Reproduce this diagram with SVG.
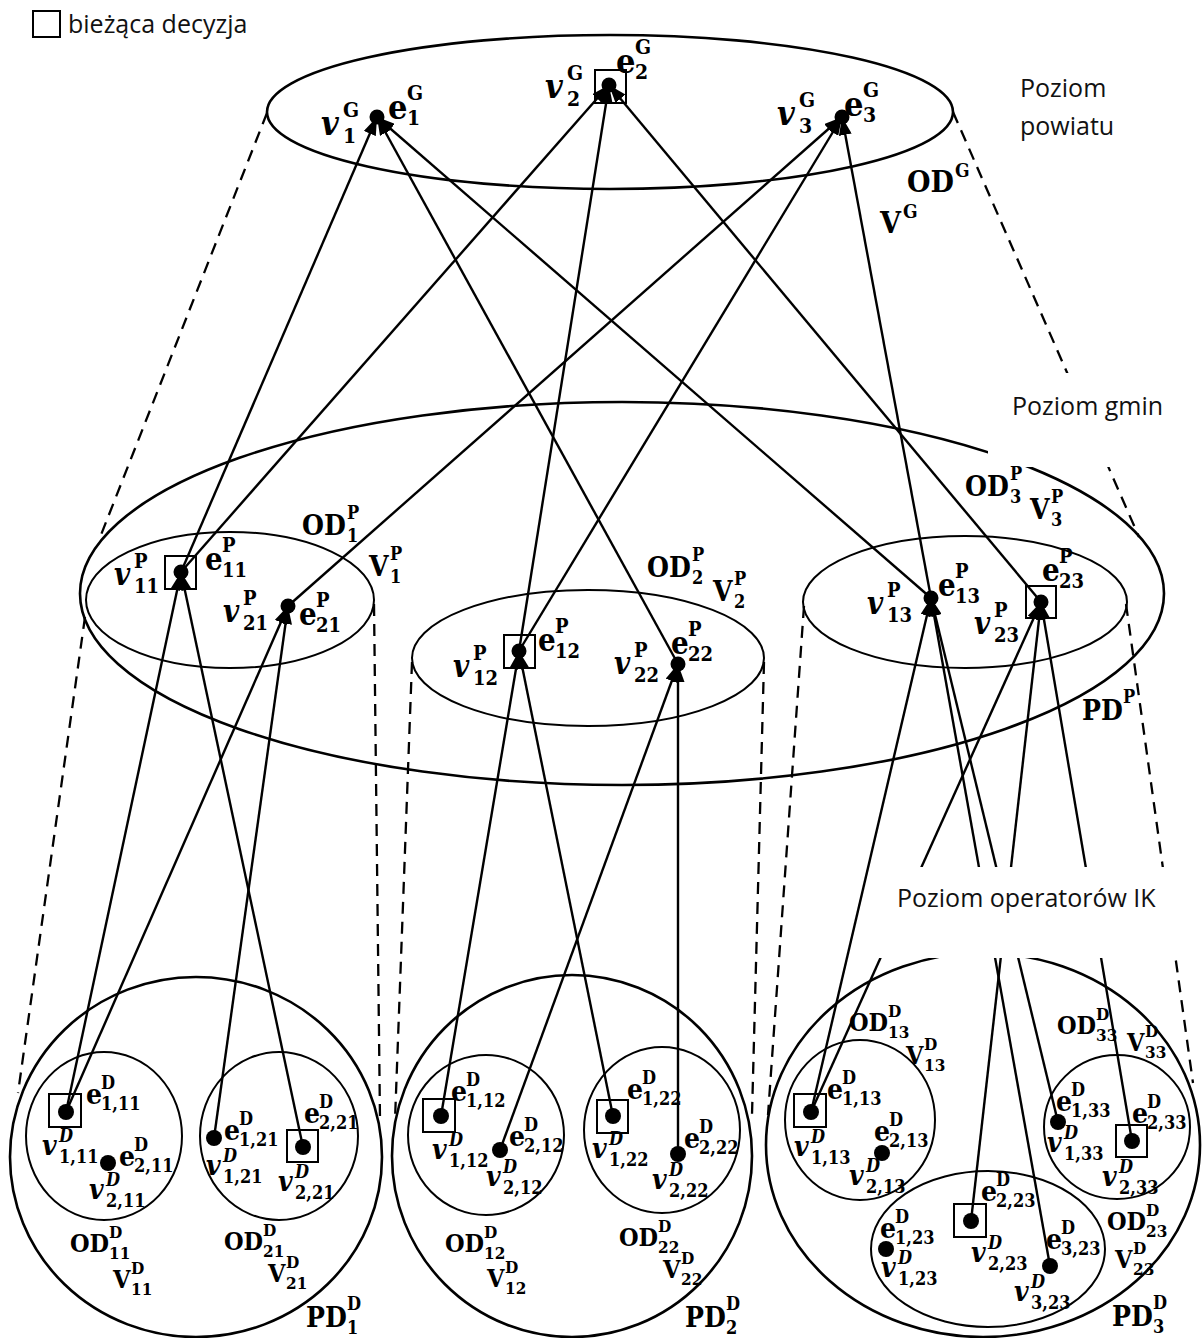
<svg xmlns="http://www.w3.org/2000/svg" width="1202" height="1338" viewBox="0 0 1202 1338">
<style>
.el{fill:none;stroke:#000;stroke-width:2.6}
.el2{fill:none;stroke:#000;stroke-width:2}
.dash{fill:none;stroke:#000;stroke-width:2.3;stroke-dasharray:12 8}
.c{stroke:#000;stroke-width:2.4;fill:none}
.dot{fill:#000}
.box{fill:none;stroke:#000;stroke-width:2}
.lv{font-family:"Open Sans",sans-serif;font-size:25px;fill:#111}
.m{font-family:"DejaVu Serif Condensed","DejaVu Serif",serif;font-weight:bold;fill:#000}
.g{font-size:34px}.gs{font-size:21px}
.go{font-size:30px}.gos{font-size:19px}
.p{font-size:31px}.ps{font-size:20px}
.po{font-size:28px}.pos{font-size:18px}
.d{font-size:28px}.ds{font-size:18px}
.do{font-size:25px}.dos{font-size:17px}
.i{font-style:italic}
.n{font-style:normal}
</style>
<defs>
<marker id="ah" viewBox="0 0 18 13" refX="18" refY="6.5" markerWidth="18" markerHeight="13" markerUnits="userSpaceOnUse" orient="auto"><path d="M0,0L18,6.5L0,13z" fill="#000"/></marker>
<mask id="mk" maskUnits="userSpaceOnUse" x="0" y="0" width="1202" height="1338"><rect width="1202" height="1338" fill="#fff"/><rect x="988" y="373" width="214" height="94" fill="#000"/><rect x="874" y="867" width="328" height="91" fill="#000"/></mask>
</defs>
<rect width="1202" height="1338" fill="#fff"/>

<g id="legend">
<rect class="box" x="33" y="11" width="27" height="26"/>
<text class="lv" x="68" y="33">bieżąca decyzja</text>
</g>

<g id="levels" mask="url(#mk)">
<ellipse id="ODG" class="el" cx="610" cy="112" rx="343" ry="77"/>
<ellipse id="PDP" class="el" cx="622" cy="593.5" rx="542" ry="191.5"/>
<ellipse id="OD1P" class="el2" cx="230" cy="600" rx="144" ry="68"/>
<ellipse id="OD2P" class="el2" cx="588" cy="658" rx="176" ry="68"/>
<ellipse id="OD3P" class="el2" cx="965" cy="602" rx="162" ry="66"/>
<ellipse id="PD1D" class="el" cx="196" cy="1157" rx="186" ry="180"/>
<ellipse id="PD2D" class="el" cx="572" cy="1156" rx="180" ry="181"/>
<ellipse id="PD3D" class="el" cx="983" cy="1145" rx="217" ry="192"/>
<ellipse id="OD11D" class="el2" cx="104" cy="1136" rx="78" ry="84"/>
<ellipse id="OD21D" class="el2" cx="279" cy="1136" rx="79" ry="84"/>
<ellipse id="OD12D" class="el2" cx="486" cy="1135" rx="78" ry="80"/>
<ellipse id="OD22D" class="el2" cx="662" cy="1130" rx="78" ry="83"/>
<ellipse id="OD13D" class="el2" cx="860" cy="1120" rx="75" ry="80"/>
<ellipse id="OD33D" class="el2" cx="1117" cy="1127" rx="73" ry="72"/>
<ellipse id="OD23D" class="el2" cx="988" cy="1249" rx="117" ry="78"/>
</g>

<g id="projections" mask="url(#mk)">
<line class="dash" x1="267" y1="113" x2="99" y2="540"/>
<line class="dash" x1="953" y1="112" x2="1139" y2="537"/>
<line class="dash" x1="85" y1="617" x2="18" y2="1093"/>
<line class="dash" x1="374" y1="604" x2="380" y2="1120"/>
<line class="dash" x1="412" y1="662" x2="395" y2="1120"/>
<line class="dash" x1="764" y1="662" x2="752" y2="1115"/>
<line class="dash" x1="804" y1="606" x2="768" y2="1115"/>
<line class="dash" x1="1126" y1="604" x2="1193" y2="1083"/>
</g>

<g id="connectors" mask="url(#mk)">
<line class="c" x1="181" y1="572" x2="377" y2="117" marker-end="url(#ah)"/>
<line class="c" x1="678" y1="664" x2="377" y2="117" marker-end="url(#ah)"/>
<line class="c" x1="931" y1="598" x2="377" y2="117" marker-end="url(#ah)"/>
<line class="c" x1="181" y1="572" x2="609" y2="85" marker-end="url(#ah)"/>
<line class="c" x1="519" y1="651" x2="609" y2="85" marker-end="url(#ah)"/>
<line class="c" x1="1041" y1="602" x2="609" y2="85" marker-end="url(#ah)"/>
<line class="c" x1="288" y1="606" x2="842" y2="117" marker-end="url(#ah)"/>
<line class="c" x1="519" y1="651" x2="842" y2="117" marker-end="url(#ah)"/>
<line class="c" x1="931" y1="598" x2="842" y2="117" marker-end="url(#ah)"/>
<line class="c" x1="66" y1="1112" x2="181" y2="572" marker-end="url(#ah)"/>
<line class="c" x1="303" y1="1147" x2="181" y2="572" marker-end="url(#ah)"/>
<line class="c" x1="66" y1="1112" x2="288" y2="606" marker-end="url(#ah)"/>
<line class="c" x1="214" y1="1138" x2="288" y2="606" marker-end="url(#ah)"/>
<line class="c" x1="441" y1="1116" x2="519" y2="651" marker-end="url(#ah)"/>
<line class="c" x1="613" y1="1116" x2="519" y2="651" marker-end="url(#ah)"/>
<line class="c" x1="500" y1="1150" x2="678" y2="664" marker-end="url(#ah)"/>
<line class="c" x1="678" y1="1154" x2="678" y2="664" marker-end="url(#ah)"/>
<line class="c" x1="811" y1="1112" x2="931" y2="598" marker-end="url(#ah)"/>
<line class="c" x1="1050" y1="1266" x2="931" y2="598" marker-end="url(#ah)"/>
<line class="c" x1="1058" y1="1122" x2="931" y2="598" marker-end="url(#ah)"/>
<line class="c" x1="811" y1="1112" x2="1041" y2="602" marker-end="url(#ah)"/>
<line class="c" x1="971" y1="1221" x2="1041" y2="602" marker-end="url(#ah)"/>
<line class="c" x1="1132" y1="1141" x2="1041" y2="602" marker-end="url(#ah)"/>
</g>

<g id="boxes">
<rect class="box" x="595" y="70" width="31" height="33"/>
<rect class="box" x="165" y="556" width="31" height="33"/>
<rect class="box" x="504" y="635" width="31" height="33"/>
<rect class="box" x="1026" y="586" width="30" height="32"/>
<rect class="box" x="49" y="1094" width="32" height="33"/>
<rect class="box" x="287" y="1130" width="31" height="32"/>
<rect class="box" x="423" y="1099" width="32" height="33"/>
<rect class="box" x="597" y="1100" width="31" height="33"/>
<rect class="box" x="794" y="1094" width="32" height="33"/>
<rect class="box" x="954" y="1204" width="32" height="33"/>
<rect class="box" x="1116" y="1125" width="31" height="32"/>
</g>

<g id="nodes">
<g id="n-e1G"><circle class="dot" cx="377" cy="117" r="7.5"/>
<text class="m g i" x="321" y="135">v<tspan class="gs n" x="343" y="117">G</tspan><tspan class="gs n" x="343" y="143">1</tspan></text>
<text class="m g" x="388" y="119">e<tspan class="gs" x="407" y="100">G</tspan><tspan class="gs" x="407" y="125">1</tspan></text></g>
<g id="n-e2G"><circle class="dot" cx="609" cy="85" r="7.5"/>
<text class="m g i" x="545" y="98">v<tspan class="gs n" x="567" y="80">G</tspan><tspan class="gs n" x="567" y="106">2</tspan></text>
<text class="m g" x="616" y="73">e<tspan class="gs" x="635" y="54">G</tspan><tspan class="gs" x="635" y="79">2</tspan></text></g>
<g id="n-e3G"><circle class="dot" cx="842" cy="117" r="7.5"/>
<text class="m g i" x="777" y="125">v<tspan class="gs n" x="799" y="107">G</tspan><tspan class="gs n" x="799" y="133">3</tspan></text>
<text class="m g" x="844" y="116">e<tspan class="gs" x="863" y="97">G</tspan><tspan class="gs" x="863" y="122">3</tspan></text></g>

<g id="n-e11P"><circle class="dot" cx="181" cy="572" r="7.5"/>
<text class="m p i" x="114" y="585">v<tspan class="ps n" x="134" y="568">P</tspan><tspan class="ps n" x="134" y="593">11</tspan></text>
<text class="m p" x="205" y="570">e<tspan class="ps" x="222" y="552">P</tspan><tspan class="ps" x="222" y="577">11</tspan></text></g>
<g id="n-e21P"><circle class="dot" cx="288" cy="606" r="7.5"/>
<text class="m p i" x="223" y="622">v<tspan class="ps n" x="243" y="605">P</tspan><tspan class="ps n" x="243" y="630">21</tspan></text>
<text class="m p" x="299" y="625">e<tspan class="ps" x="316" y="607">P</tspan><tspan class="ps" x="316" y="632">21</tspan></text></g>
<g id="n-e12P"><circle class="dot" cx="519" cy="651" r="7.5"/>
<text class="m p i" x="453" y="677">v<tspan class="ps n" x="473" y="660">P</tspan><tspan class="ps n" x="473" y="685">12</tspan></text>
<text class="m p" x="538" y="651">e<tspan class="ps" x="555" y="633">P</tspan><tspan class="ps" x="555" y="658">12</tspan></text></g>
<g id="n-e22P"><circle class="dot" cx="678" cy="664" r="7.5"/>
<text class="m p i" x="614" y="674">v<tspan class="ps n" x="634" y="657">P</tspan><tspan class="ps n" x="634" y="682">22</tspan></text>
<text class="m p" x="671" y="654">e<tspan class="ps" x="688" y="636">P</tspan><tspan class="ps" x="688" y="661">22</tspan></text></g>
<g id="n-e13P"><circle class="dot" cx="931" cy="598" r="7.5"/>
<text class="m p i" x="867" y="614">v<tspan class="ps n" x="887" y="597">P</tspan><tspan class="ps n" x="887" y="622">13</tspan></text>
<text class="m p" x="938" y="596">e<tspan class="ps" x="955" y="578">P</tspan><tspan class="ps" x="955" y="603">13</tspan></text></g>
<g id="n-e23P"><circle class="dot" cx="1041" cy="602" r="7.5"/>
<text class="m p i" x="974" y="634">v<tspan class="ps n" x="994" y="617">P</tspan><tspan class="ps n" x="994" y="642">23</tspan></text>
<text class="m p" x="1042" y="581">e<tspan class="ps" x="1059" y="563">P</tspan><tspan class="ps" x="1059" y="588">23</tspan></text></g>

<g id="n-e111D"><circle class="dot" cx="66" cy="1112" r="8"/>
<text class="m d" x="86" y="1104">e<tspan class="ds" x="101" y="1089">D</tspan><tspan class="ds" x="101" y="1110">1,11</tspan></text>
<text class="m d i" x="42" y="1155">v<tspan class="ds" x="59" y="1142">D</tspan><tspan class="ds n" x="59" y="1163">1,11</tspan></text></g>
<g id="n-e211D"><circle class="dot" cx="108" cy="1163" r="8"/>
<text class="m d" x="119" y="1166">e<tspan class="ds" x="134" y="1151">D</tspan><tspan class="ds" x="134" y="1172">2,11</tspan></text>
<text class="m d i" x="89" y="1199">v<tspan class="ds" x="106" y="1186">D</tspan><tspan class="ds n" x="106" y="1207">2,11</tspan></text></g>
<g id="n-e121D"><circle class="dot" cx="214" cy="1138" r="8"/>
<text class="m d" x="224" y="1140">e<tspan class="ds" x="239" y="1125">D</tspan><tspan class="ds" x="239" y="1146">1,21</tspan></text>
<text class="m d i" x="206" y="1175">v<tspan class="ds" x="223" y="1162">D</tspan><tspan class="ds n" x="223" y="1183">1,21</tspan></text></g>
<g id="n-e221D"><circle class="dot" cx="303" cy="1147" r="8"/>
<text class="m d" x="304" y="1123">e<tspan class="ds" x="319" y="1108">D</tspan><tspan class="ds" x="319" y="1129">2,21</tspan></text>
<text class="m d i" x="278" y="1191">v<tspan class="ds" x="295" y="1178">D</tspan><tspan class="ds n" x="295" y="1199">2,21</tspan></text></g>
<g id="lab-PD1">
<text class="m do" x="70" y="1252">OD<tspan class="dos" x="109" y="1238">D</tspan><tspan class="dos" x="109" y="1259">11</tspan></text>
<text class="m do" x="113" y="1288">V<tspan class="dos" x="131" y="1274">D</tspan><tspan class="dos" x="131" y="1295">11</tspan></text>
<text class="m do" x="224" y="1250">OD<tspan class="dos" x="263" y="1236">D</tspan><tspan class="dos" x="263" y="1257">21</tspan></text>
<text class="m do" x="268" y="1282">V<tspan class="dos" x="286" y="1268">D</tspan><tspan class="dos" x="286" y="1289">21</tspan></text>
<text class="m po" x="306" y="1327">PD<tspan class="pos" x="347" y="1310">D</tspan><tspan class="pos" x="347" y="1334">1</tspan></text></g>

<g id="n-e112D"><circle class="dot" cx="441" cy="1116" r="8"/>
<text class="m d" x="451" y="1101">e<tspan class="ds" x="466" y="1086">D</tspan><tspan class="ds" x="466" y="1107">1,12</tspan></text>
<text class="m d i" x="432" y="1159">v<tspan class="ds" x="449" y="1146">D</tspan><tspan class="ds n" x="449" y="1167">1,12</tspan></text></g>
<g id="n-e212D"><circle class="dot" cx="500" cy="1150" r="8"/>
<text class="m d" x="509" y="1146">e<tspan class="ds" x="524" y="1131">D</tspan><tspan class="ds" x="524" y="1152">2,12</tspan></text>
<text class="m d i" x="486" y="1186">v<tspan class="ds" x="503" y="1173">D</tspan><tspan class="ds n" x="503" y="1194">2,12</tspan></text></g>
<g id="n-e122D"><circle class="dot" cx="613" cy="1116" r="8"/>
<text class="m d" x="627" y="1099">e<tspan class="ds" x="642" y="1084">D</tspan><tspan class="ds" x="642" y="1105">1,22</tspan></text>
<text class="m d i" x="592" y="1158">v<tspan class="ds" x="609" y="1145">D</tspan><tspan class="ds n" x="609" y="1166">1,22</tspan></text></g>
<g id="n-e222D"><circle class="dot" cx="678" cy="1154" r="8"/>
<text class="m d" x="684" y="1148">e<tspan class="ds" x="699" y="1133">D</tspan><tspan class="ds" x="699" y="1154">2,22</tspan></text>
<text class="m d i" x="652" y="1189">v<tspan class="ds" x="669" y="1176">D</tspan><tspan class="ds n" x="669" y="1197">2,22</tspan></text></g>
<g id="lab-PD2">
<text class="m do" x="445" y="1252">OD<tspan class="dos" x="484" y="1238">D</tspan><tspan class="dos" x="484" y="1259">12</tspan></text>
<text class="m do" x="487" y="1287">V<tspan class="dos" x="505" y="1273">D</tspan><tspan class="dos" x="505" y="1294">12</tspan></text>
<text class="m do" x="619" y="1246">OD<tspan class="dos" x="658" y="1232">D</tspan><tspan class="dos" x="658" y="1253">22</tspan></text>
<text class="m do" x="663" y="1278">V<tspan class="dos" x="681" y="1264">D</tspan><tspan class="dos" x="681" y="1285">22</tspan></text>
<text class="m po" x="685" y="1327">PD<tspan class="pos" x="726" y="1310">D</tspan><tspan class="pos" x="726" y="1334">2</tspan></text></g>

<g id="n-e113D"><circle class="dot" cx="811" cy="1112" r="8"/>
<text class="m d" x="827" y="1099">e<tspan class="ds" x="842" y="1084">D</tspan><tspan class="ds" x="842" y="1105">1,13</tspan></text>
<text class="m d i" x="794" y="1156">v<tspan class="ds" x="811" y="1143">D</tspan><tspan class="ds n" x="811" y="1164">1,13</tspan></text></g>
<g id="n-e213D"><circle class="dot" cx="882" cy="1153" r="8"/>
<text class="m d" x="874" y="1141">e<tspan class="ds" x="889" y="1126">D</tspan><tspan class="ds" x="889" y="1147">2,13</tspan></text>
<text class="m d i" x="849" y="1185">v<tspan class="ds" x="866" y="1172">D</tspan><tspan class="ds n" x="866" y="1193">2,13</tspan></text></g>
<g id="n-e133D"><circle class="dot" cx="1058" cy="1122" r="8"/>
<text class="m d" x="1056" y="1111">e<tspan class="ds" x="1071" y="1096">D</tspan><tspan class="ds" x="1071" y="1117">1,33</tspan></text>
<text class="m d i" x="1047" y="1152">v<tspan class="ds" x="1064" y="1139">D</tspan><tspan class="ds n" x="1064" y="1160">1,33</tspan></text></g>
<g id="n-e233D"><circle class="dot" cx="1132" cy="1141" r="8"/>
<text class="m d" x="1132" y="1123">e<tspan class="ds" x="1147" y="1108">D</tspan><tspan class="ds" x="1147" y="1129">2,33</tspan></text>
<text class="m d i" x="1102" y="1186">v<tspan class="ds" x="1119" y="1173">D</tspan><tspan class="ds n" x="1119" y="1194">2,33</tspan></text></g>
<g id="n-e123D"><circle class="dot" cx="886" cy="1249" r="8"/>
<text class="m d" x="880" y="1238">e<tspan class="ds" x="895" y="1223">D</tspan><tspan class="ds" x="895" y="1244">1,23</tspan></text>
<text class="m d i" x="881" y="1277">v<tspan class="ds" x="898" y="1264">D</tspan><tspan class="ds n" x="898" y="1285">1,23</tspan></text></g>
<g id="n-e223D"><circle class="dot" cx="971" cy="1221" r="8"/>
<text class="m d" x="981" y="1201">e<tspan class="ds" x="996" y="1186">D</tspan><tspan class="ds" x="996" y="1207">2,23</tspan></text>
<text class="m d i" x="971" y="1262">v<tspan class="ds" x="988" y="1249">D</tspan><tspan class="ds n" x="988" y="1270">2,23</tspan></text></g>
<g id="n-e323D"><circle class="dot" cx="1050" cy="1266" r="8"/>
<text class="m d" x="1046" y="1249">e<tspan class="ds" x="1061" y="1234">D</tspan><tspan class="ds" x="1061" y="1255">3,23</tspan></text>
<text class="m d i" x="1014" y="1301">v<tspan class="ds" x="1031" y="1288">D</tspan><tspan class="ds n" x="1031" y="1309">3,23</tspan></text></g>
<g id="lab-PD3">
<text class="m do" x="849" y="1031">OD<tspan class="dos" x="888" y="1017">D</tspan><tspan class="dos" x="888" y="1038">13</tspan></text>
<text class="m do" x="906" y="1064">V<tspan class="dos" x="924" y="1050">D</tspan><tspan class="dos" x="924" y="1071">13</tspan></text>
<text class="m do" x="1057" y="1034">OD<tspan class="dos" x="1096" y="1020">D</tspan><tspan class="dos" x="1096" y="1041">33</tspan></text>
<text class="m do" x="1127" y="1051">V<tspan class="dos" x="1145" y="1037">D</tspan><tspan class="dos" x="1145" y="1058">33</tspan></text>
<text class="m do" x="1107" y="1230">OD<tspan class="dos" x="1146" y="1216">D</tspan><tspan class="dos" x="1146" y="1237">23</tspan></text>
<text class="m do" x="1115" y="1268">V<tspan class="dos" x="1133" y="1254">D</tspan><tspan class="dos" x="1133" y="1275">23</tspan></text>
<text class="m po" x="1112" y="1326">PD<tspan class="pos" x="1153" y="1309">D</tspan><tspan class="pos" x="1153" y="1333">3</tspan></text></g>
</g>

<g id="level-labels">
<text class="m go" x="907" y="192">OD<tspan class="gos" x="955" y="177">G</tspan></text>
<text class="m go" x="880" y="233">V<tspan class="gos" x="903" y="218">G</tspan></text>
<text class="m po" x="302" y="535">OD<tspan class="pos" x="347" y="519">P</tspan><tspan class="pos" x="347" y="542">1</tspan></text>
<text class="m po" x="369" y="576">V<tspan class="pos" x="390" y="560">P</tspan><tspan class="pos" x="390" y="583">1</tspan></text>
<text class="m po" x="647" y="577">OD<tspan class="pos" x="692" y="561">P</tspan><tspan class="pos" x="692" y="584">2</tspan></text>
<text class="m po" x="713" y="601">V<tspan class="pos" x="734" y="585">P</tspan><tspan class="pos" x="734" y="608">2</tspan></text>
<text class="m po" x="965" y="496">OD<tspan class="pos" x="1010" y="480">P</tspan><tspan class="pos" x="1010" y="503">3</tspan></text>
<text class="m po" x="1030" y="519">V<tspan class="pos" x="1051" y="503">P</tspan><tspan class="pos" x="1051" y="526">3</tspan></text>
<text class="m po" x="1082" y="720">PD<tspan class="pos" x="1123" y="703">P</tspan></text>
<text class="lv" x="1020" y="97">Poziom</text>
<text class="lv" x="1020" y="135">powiatu</text>
<text class="lv" x="1012" y="415">Poziom gmin</text>
<text class="lv" x="897" y="907">Poziom operatorów IK</text>
</g>
</svg>
